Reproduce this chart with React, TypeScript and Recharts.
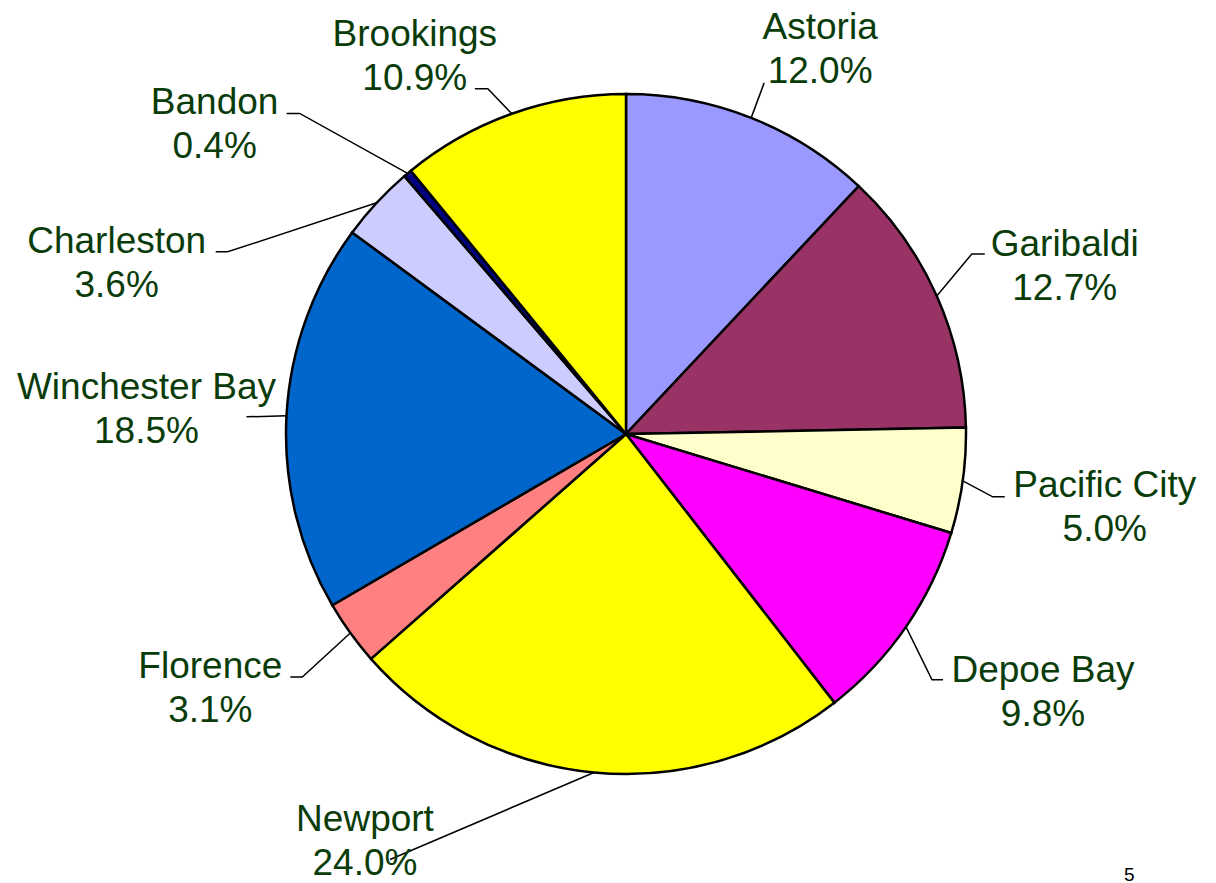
import { PieChart, Pie, Cell } from 'recharts'

const ports = [
  'Astoria',
  'Garibaldi',
  'Pacific City',
  'Depoe Bay',
  'Newport',
  'Florence',
  'Winchester Bay',
  'Charleston',
  'Bandon',
  'Brookings',
]
const shares = [12.0, 12.7, 5.0, 9.8, 24.0, 3.1, 18.5, 3.6, 0.4, 10.9]
const colors = [
  '#9999FF',
  '#993366',
  '#FFFFCC',
  '#FF00FF',
  '#FFFF00',
  '#FF8080',
  '#0066CC',
  '#CCCCFF',
  '#000080',
  '#FFFF00',
]

const data = ports.map((name, i) => ({ name, value: shares[i] }))

// label placement, offsets from the slice's outer edge point (hand-tuned like the original deck)
const textOffset: [number, number][] = [
  [69, -70],
  [128, -31],
  [142, 25],
  [137, 64],
  [-229, 68],
  [-140, 54],
  [-140, -8],
  [-260, 59],
  [-193, -50],
  [-97, -59],
]
const leaderPath: [number, number][][] = [
  [[13, -35]],
  [[35, -42], [48, -42]],
  [[30, 16], [42, 16]],
  [[26, 53], [37, 53]],
  [[-204, 87]],
  [[-48, 44], [-60, 44]],
  [[-40, 1]],
  [[-149, 49], [-161, 49]],
  [[-108, -60], [-121, -60]],
  [[-24, -25], [-37, -25]],
]

const RAD = Math.PI / 180
const FONT = '"Liberation Sans", Arial, sans-serif'
const TEXT_COLOR = '#0a3c0a'
const FS = 37

function renderLabel(props: any) {
  const { cx, cy, midAngle, outerRadius, index, value } = props
  const ex = cx + outerRadius * Math.cos(-midAngle * RAD)
  const ey = cy + outerRadius * Math.sin(-midAngle * RAD)
  const pts = [[ex, ey], ...leaderPath[index].map(([dx, dy]) => [ex + dx, ey + dy])]
  const [tdx, tdy] = textOffset[index]
  const tx = ex + tdx
  const ty = ey + tdy
  return (
    <g key={`lbl-${index}`}>
      <polyline
        points={pts.map((p) => p.join(',')).join(' ')}
        fill="none"
        stroke="#000"
        strokeWidth={1.5}
      />
      <text
        x={tx}
        y={ty - 22 + 13}
        textAnchor="middle"
        fill={TEXT_COLOR}
        fontSize={FS}
        fontFamily={FONT}
      >
        {ports[index]}
      </text>
      <text
        x={tx}
        y={ty + 22 + 13}
        textAnchor="middle"
        fill={TEXT_COLOR}
        fontSize={FS}
        fontFamily={FONT}
      >
        {`${Number(value).toFixed(1)}%`}
      </text>
    </g>
  )
}

export default function App() {
  return (
    <div style={{ position: 'absolute', left: 0, top: 0, width: 1216, height: 883, background: '#fff' }}>
      <PieChart width={1216} height={883} margin={{ top: 0, right: 0, bottom: 0, left: 0 }}>
        <Pie
          data={data}
          dataKey="value"
          nameKey="name"
          cx={626}
          cy={434}
          outerRadius={340}
          startAngle={90}
          endAngle={-270}
          stroke="#000"
          strokeWidth={2.5}
          label={renderLabel}
          labelLine={false}
          isAnimationActive={false}
        >
          {data.map((d, i) => (
            <Cell key={d.name} fill={colors[i]} />
          ))}
        </Pie>
      </PieChart>
      <div
        style={{
          position: 'absolute',
          left: 1124,
          top: 864,
          fontFamily: FONT,
          fontSize: 19,
          color: '#000',
        }}
      >
        5
      </div>
    </div>
  )
}
